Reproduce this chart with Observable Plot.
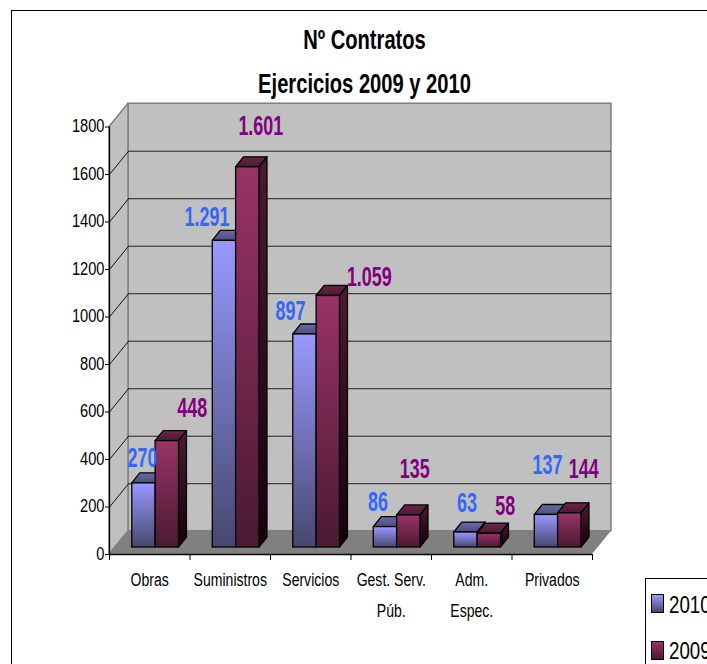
<!DOCTYPE html>
<html lang="es">
<head>
<meta charset="utf-8">
<script src="https://cdn.jsdelivr.net/npm/d3@7"></script>
<script src="https://cdn.jsdelivr.net/npm/@observablehq/plot@0.6"></script>
<style>
html,body{margin:0;padding:0;background:#fff;overflow:hidden}
#page{position:relative;width:707px;height:664px;overflow:hidden;background:#fff;font-family:"Liberation Sans",Arial,sans-serif}
#page svg{display:block;position:absolute;left:0;top:0}
#frame{position:absolute;left:11px;top:10px;width:800px;height:800px;border:1.5px solid #000;box-sizing:border-box}
#legend{position:absolute;left:645px;top:578px;width:120px;height:120px;border:1px solid #000;background:#fff;box-sizing:border-box}
.sw{position:absolute;left:5px;width:13px;height:19px;border:1.2px solid #000;box-sizing:border-box}
.lt{position:absolute;left:23px;font-size:24px;line-height:24px;color:#000;transform:scaleX(.78);transform-origin:left}
</style>
</head>
<body>
<div id="page"><div id="chart"></div><div id="frame"></div>
<div id="legend">
<div class="sw" style="top:15px;background:linear-gradient(#9999ff,#47476f)"></div><div class="lt" id="l0" style="top:14px"></div>
<div class="sw" style="top:62px;background:linear-gradient(#993366,#4a1a33)"></div><div class="lt" id="l1" style="top:60px"></div>
</div></div>
<script>
const titleLines = ["Nº Contratos", "Ejercicios 2009 y 2010"];
const categories = ["Obras", "Suministros", "Servicios", "Gest. Serv.\nPúb.", "Adm.\nEspec.", "Privados"];
const series = ["2010", "2009"];
const values2010 = [270, 1291, 897, 86, 63, 137];
const values2009 = [448, 1601, 1059, 135, 58, 144];
const yTicks = [0, 200, 400, 600, 800, 1000, 1200, 1400, 1600, 1800];

// Hand-placed label nudges (pixels from each bar's top centre), as in the source chart
const nudge2010 = [[-1.5,-25],[-17.5,-24],[-14.5,-23],[-7.5,-25],[1,-30],[1,-49.5]];
const nudge2009 = [[25,-33],[13,-41],[41,-18.5],[6,-46],[16,-28],[14,-44]];

// 3D geometry in data units
const wallDx = 0.236, wallDv = 98;      // depth of the whole plot box
const barDx = 0.0994, barDv = 42;       // depth of a bar
const baseV = 29.5;                     // bar footprint sits slightly behind the axis
const slots = [[0.28, 0.57], [0.57, 0.86]];
const fmt = d3.formatLocale({decimal: ",", thousands: ".", grouping: [3], currency: ["", ""]}).format(",");

const bars = (vals, s) => vals.map((v, i) => ({i, v, x1: i + slots[s][0] + 0.003, x2: i + slots[s][1] + 0.003, base: baseV, top: v + baseV}));

const barMarks = (vals, s, name) => {
  const b = bars(vals, s);
  const top = b.flatMap(d => [
    {z: d.i, x1: d.x1, x2: d.x2, y: d.top},
    {z: d.i, x1: d.x1 + barDx, x2: d.x2 + barDx, y: d.top + barDv}
  ]);
  const side = b.flatMap(d => [
    {z: d.i, x: d.x2, y1: d.base, y2: d.top},
    {z: d.i, x: d.x2 + barDx, y1: d.base + barDv, y2: d.top + barDv}
  ]);
  const st = {stroke: "#000", strokeWidth: 1.3};
  return [
    Plot.area(top, {x1: "x1", x2: "x2", y1: "y", y2: "y", z: "z", fill: `url(#${name}T)`, ...st}),
    Plot.area(side, {x1: "x", x2: "x", y1: "y1", y2: "y2", z: "z", fill: `url(#${name}S)`, ...st}),
    Plot.rect(b, {x1: "x1", x2: "x2", y1: "base", y2: "top", fill: `url(#${name}F)`, ...st})
  ];
};

const labelMarks = (vals, s, nudge, color) => bars(vals, s).map((d, k) =>
  Plot.text([d], {
    x: q => (q.x1 + q.x2) / 2, y: "top", text: q => fmt(q.v),
    dx: nudge[k][0], dy: nudge[k][1],
    fontSize: 28, fontWeight: "bold", fill: color, className: "lab"
  })
);

const inner = yTicks.slice(1, -1);
const grad = (id, a, b) => `<linearGradient id="${id}" x1="0" y1="0" x2="0" y2="1"><stop offset="0" stop-color="${a}"/><stop offset="1" stop-color="${b}"/></linearGradient>`;

const chart = Plot.plot({
  width: 707, height: 664,
  marginLeft: 109, marginRight: 115, marginTop: 126.5, marginBottom: 110,
  x: {type: "linear", domain: [0, 6], axis: null},
  y: {domain: [0, 1800], axis: null},
  style: {fontFamily: '"Liberation Sans", Arial, sans-serif', background: "transparent", overflow: "visible", color: "#000"},
  marks: [
    () => {
      const defs = d3.create("svg:defs");
      defs.html(
        grad("aF", "#9999ff", "#47476f") + grad("aS", "#4d4d80", "#1a1a33") + grad("aT", "#6a6aa6", "#4d4d80") +
        grad("bF", "#993366", "#4a1a33") + grad("bS", "#4d1a33", "#150008") + grad("bT", "#6e2548", "#4a1a33")
      );
      return defs.node();
    },
    // back wall, side wall, floor
    Plot.rect([0], {x1: wallDx, x2: 6 + wallDx, y1: wallDv, y2: 1800 + wallDv, fill: "#c0c0c0", stroke: "#808080", strokeWidth: 1.5}),
    Plot.area([0, 1], {x1: d => d * wallDx, x2: d => d * wallDx, y1: d => d * wallDv, y2: d => 1800 + d * wallDv, fill: "#c0c0c0", stroke: "#808080", strokeWidth: 1.5}),
    Plot.area([0, 1], {x1: d => d * wallDx, x2: d => 6 + d * wallDx, y1: d => d * wallDv, y2: d => d * wallDv, fill: "#808080"}),
    // gridlines
    Plot.link(inner, {x1: 0, y1: d => d, x2: wallDx, y2: d => d + wallDv, stroke: "#111", strokeWidth: 1}),
    Plot.ruleY(inner, {y: d => d + wallDv, x1: wallDx, x2: 6 + wallDx, stroke: "#222", strokeWidth: 1}),
    // bars
    ...barMarks(values2010, 0, "a"),
    ...barMarks(values2009, 1, "b"),
    // axes
    Plot.ruleX([0], {y1: 0, y2: 1800, stroke: "#000", strokeWidth: 1.3}),
    Plot.ruleY([0], {x1: 0, x2: 6, stroke: "#000", strokeWidth: 1.3}),
    Plot.axisY({ticks: yTicks, anchor: "left", tickSize: 4, tickPadding: 1, fontSize: 19, label: null, tickFormat: d => String(d), stroke: "#000"}),
    Plot.axisX({ticks: d3.range(7), anchor: "bottom", tickSize: 6, label: null, tickFormat: () => "", stroke: "#000"}),
    // category labels
    Plot.text(categories, {x: (d, i) => i + 0.5, y: 0, text: d => d, dy: 10, lineAnchor: "top", lineHeight: 1.63, fontSize: 19, className: "cat"}),
    // data labels
    ...labelMarks(values2010, 0, nudge2010, "#3366ff"),
    ...labelMarks(values2009, 1, nudge2009, "#800080"),
    // title
    Plot.text([titleLines[0]], {frameAnchor: "top", dx: 13.5, dy: -87, lineAnchor: "middle", fontSize: 28, fontWeight: "bold", className: "ttl"}),
    Plot.text([titleLines[1]], {frameAnchor: "top", dx: 13.5, dy: -43, lineAnchor: "middle", fontSize: 28, fontWeight: "bold", className: "ttl"})
  ]
});

// the source's lettering is condensed: squeeze each label horizontally about its anchor
const squeeze = (sel, k, up = 0) => chart.querySelectorAll(sel).forEach(t =>
  t.setAttribute("transform", `${t.getAttribute("transform") || ""} translate(0,${-up}) scale(${k},1)`));
squeeze('.lab text', 0.64);
squeeze('.cat text', 0.74);
squeeze('.ttl text', 0.72);
squeeze('[aria-label="y-axis tick label"] text', 0.77, 1);

document.getElementById("chart").append(chart);
document.getElementById("l0").textContent = series[0];
document.getElementById("l1").textContent = series[1];
</script>
</body>
</html>
